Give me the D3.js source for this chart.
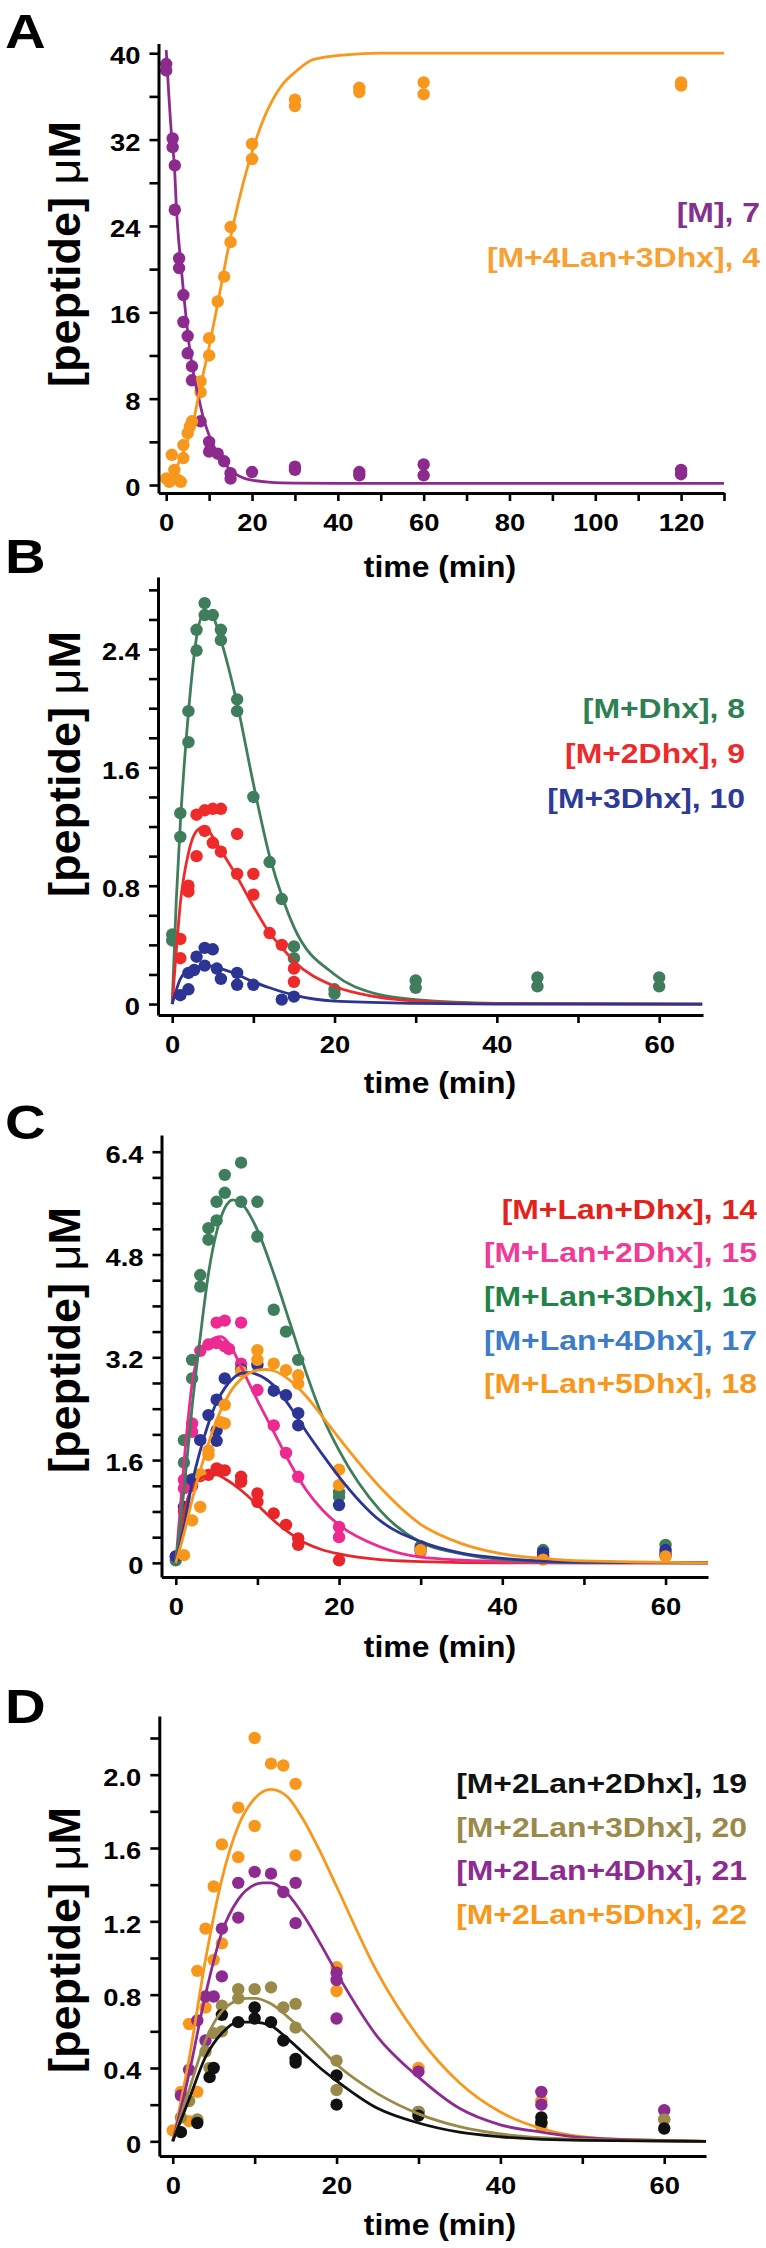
<!DOCTYPE html>
<html>
<head>
<meta charset="utf-8">
<script src="https://cdn.jsdelivr.net/npm/d3@7/dist/d3.min.js"></script>
<style>
  html, body { margin: 0; padding: 0; background: #fff; }
  svg { display: block; }
</style>
</head>
<body>
<svg id="chart" width="766" height="2248"></svg>
<script>
// ---------------- DATA ----------------
// Panel A
const aM_points = [[0,39.0],[0,38.4],[1.5,32.1],[1.5,31.3],[2,29.6],[2,25.5],[3,21.0],[3,20.1],[4,17.6],[4,15.1],[5,13.8],[5,12.2],[6,11.0],[6,9.7],[8,5.9],[10,4.0],[10,3.1],[12,2.9],[13.5,2.2],[15,1.1],[15,0.6],[20,1.2],[30,1.7],[30,1.4],[45,1.2],[45,0.9],[60,1.9],[60,0.9],[120,1.4],[120,1.0]];
const aM_fit = [[0,40.3],[1.3,32.1],[1.9,29.6],[2.4,25.5],[3.4,20.5],[4.1,17.6],[5.5,12.5],[6.8,9.4],[7.5,8.2],[8.6,6.3],[10.1,4.5],[12,2.9],[14.7,1.5],[18.4,0.6],[24.4,0.25],[30.5,0.18],[40,0.15],[130,0.15]];
const aP_points = [[0,0.6],[0.7,0.3],[1.3,2.8],[1.9,1.4],[2.6,0.5],[3.4,0.3],[4,2.5],[4,3.7],[5,4.8],[5.5,5.4],[6,5.9],[8,9.6],[8,8.6],[10,13.6],[10,12.0],[12,17.0],[13.5,19.3],[15,23.9],[15,22.5],[20,31.6],[20,30.2],[30,35.7],[30,35.1],[45,36.8],[45,36.4],[60,37.3],[60,36.2],[120,37.3],[120,37.0]];
const aP_fit = [[0,0],[2,1.3],[4.1,3.2],[6.4,6.0],[7.5,8.2],[10,12.8],[12,16.8],[14.7,22.4],[19.2,29.8],[22.9,34.1],[26.7,36.9],[30.5,38.4],[34.2,39.4],[41.7,39.85],[50,40],[130,40]];

// Panel B
const b8_points = [[4,2.71],[4,2.63],[5,2.63],[3,2.53],[6,2.53],[6,2.46],[3,2.39],[2,1.98],[2,1.77],[8,2.06],[8,1.98],[1,1.29],[1,1.13],[10,1.40],[12,0.96],[13.5,0.71],[0,0.47],[0,0.43],[15,0.39],[15,0.31],[20,0.10],[20,0.07],[30,0.16],[30,0.11],[45,0.18],[45,0.12],[60,0.18],[60,0.12]];
const b8_fit = [[0,0],[0.5,0.7],[1,1.22],[2,1.97],[3,2.48],[4,2.65],[5,2.62],[6,2.46],[8,2.03],[10,1.49],[12,1.0],[13.7,0.70],[15,0.52],[20,0.2],[25,0.07],[30,0.03],[40,0.005],[65.3,0]];
const b9_points = [[3,1.28],[4,1.31],[5,1.32],[6,1.32],[4,1.17],[5,1.09],[6,1.03],[3,1.0],[8,1.15],[2,0.80],[2,0.76],[8,0.88],[10,0.88],[10,0.74],[1,0.44],[1,0.31],[12,0.48],[13.5,0.40],[15,0.24],[15,0.15]];
const b9_fit = [[0,0],[0.5,0.36],[1,0.68],[2,1.02],[3,1.17],[4,1.2],[5,1.13],[6,1.04],[8,0.86],[10,0.66],[12,0.48],[13.7,0.37],[15,0.29],[20,0.12],[25,0.05],[30,0.02],[40,0.003],[65.3,0]];
const b10_points = [[4,0.38],[5,0.37],[3,0.32],[2,0.21],[2.7,0.23],[4,0.26],[5.5,0.24],[6,0.17],[8,0.21],[8,0.13],[10,0.13],[1,0.06],[2,0.10],[13.5,0.03],[15,0.05]];
const b10_fit = [[0,0],[1,0.17],[2,0.23],[3,0.25],[4,0.26],[5,0.255],[6,0.24],[8,0.2],[10,0.15],[12,0.11],[15,0.06],[20,0.02],[30,0.005],[40,0],[65.3,0]];

// Panel C
const c14_points = [[5,1.47],[5.5,1.44],[6,1.44],[4,1.37],[8,1.34],[8,1.26],[10,1.08],[10,0.95],[12,0.77],[13.5,0.59],[15,0.38],[15,0.28],[20,0.04],[3,1.35],[2,1.2],[1,0.8]];
const c14_fit = [[0,0],[1,0.77],[2,1.18],[3,1.31],[4,1.36],[5,1.37],[6,1.31],[8,1.13],[10,0.9],[12,0.66],[14,0.46],[16,0.30],[18,0.2],[20,0.14],[25,0.05],[30,0.02],[40,0],[65.2,0]];
const c15_points = [[5,3.74],[6,3.77],[8,3.74],[3,3.3],[4,3.4],[5,3.42],[6,3.37],[6.5,3.33],[8,3.1],[10,2.69],[12,2.14],[13.5,1.71],[15,1.34],[20,0.56],[20,0.40],[2,2.17],[2,2.04],[1,1.29],[1,1.16],[0,0.1],[30,0.18],[45,0.12],[60,0.15]];
const c15_fit = [[0,0],[1,1.55],[2,2.79],[3,3.31],[4,3.44],[5.5,3.52],[7,3.31],[8,3.05],[10,2.53],[12,2.04],[14,1.55],[16,1.13],[18,0.82],[20,0.59],[25,0.25],[30,0.09],[40,0.02],[50,0],[65.2,0]];
const c16_points = [[8,6.23],[6,6.04],[6,5.76],[5,5.62],[8,5.62],[10,5.62],[5,5.33],[4,5.21],[4,5.03],[10,5.08],[3,4.48],[3,4.30],[12,3.94],[13.5,3.60],[15,3.16],[2,3.16],[2,2.87],[1,1.91],[1,1.56],[0,0.04],[20,1.10],[20,1.03],[30,0.26],[45,0.2],[60,0.28]];
const c16_fit = [[0,0],[1,1.13],[2,2.43],[3,3.52],[4,4.5],[5,5.15],[6,5.52],[7,5.65],[8,5.6],[10,5.18],[12,4.5],[14,3.73],[16,2.95],[18,2.27],[20,1.75],[25,0.82],[30,0.32],[35,0.14],[40,0.05],[50,0.005],[65.2,0]];
const c17_points = [[8,3.01],[10,3.08],[6,2.87],[5,2.54],[4,2.30],[12,2.68],[13.5,2.61],[15,2.33],[15,2.14],[3,1.91],[5,2.06],[5,1.9],[2,1.30],[1,0.87],[20,0.90],[0,0.1],[30,0.22],[45,0.16],[45,0.1],[60,0.2],[60,0.12]];
const c17_fit = [[0,0],[1,0.56],[2,1.24],[3,1.75],[4,2.17],[5,2.5],[6,2.72],[7,2.87],[8,2.95],[9,2.96],[10,2.93],[12,2.76],[14,2.43],[16,2.04],[18,1.68],[20,1.34],[25,0.66],[30,0.33],[35,0.15],[40,0.07],[50,0.01],[65.2,0]];
const c18_points = [[10,3.31],[10,3.16],[12,3.10],[13.5,3.0],[15,2.92],[15,2.79],[8,2.98],[6,2.46],[5.5,2.19],[6,2.17],[4,1.75],[4,1.68],[3,1.38],[3,0.87],[2,0.66],[1,0.12],[20,1.45],[20,1.21],[30,0.2],[45,0.05],[60,0.1]];
const c18_fit = [[0,0],[1,0.45],[2,0.98],[3,1.44],[4,1.86],[5,2.22],[6,2.5],[7,2.72],[8,2.86],[10,3.0],[11,3.01],[12,2.99],[14,2.84],[16,2.59],[18,2.27],[20,1.94],[25,1.18],[30,0.6],[35,0.3],[40,0.14],[45,0.07],[50,0.03],[65.2,0]];

// Panel D
const d19_points = [[10,0.73],[10,0.67],[8,0.65],[12,0.65],[6,0.69],[13.5,0.55],[15,0.45],[15,0.43],[5,0.40],[4.5,0.35],[20,0.36],[20,0.20],[3,0.10],[1,0.05],[30,0.14],[45,0.13],[45,0.1],[60,0.07]];
const d19_fit = [[0,0],[2,0.23],[4,0.46],[6,0.59],[8,0.65],[10,0.65],[12,0.63],[14,0.56],[16,0.48],[18,0.40],[20,0.33],[25,0.18],[30,0.10],[35,0.05],[40,0.025],[50,0.005],[65.1,0]];
const d20_points = [[8,0.83],[10,0.83],[12,0.84],[8,0.78],[13.5,0.73],[15,0.75],[15,0.62],[6,0.74],[6,0.60],[5,0.59],[4,0.49],[4.5,0.40],[2,0.22],[1,0.13],[3,0.12],[20,0.44],[20,0.28],[30,0.16],[45,0.1],[60,0.12]];
const d20_fit = [[0,0],[2,0.28],[4,0.55],[6,0.71],[8,0.77],[9,0.78],[10,0.78],[12,0.75],[14,0.68],[16,0.60],[18,0.51],[20,0.42],[25,0.26],[30,0.15],[35,0.08],[40,0.04],[50,0.01],[65.1,0]];
const d21_points = [[10,1.47],[12,1.46],[8,1.41],[15,1.41],[13.5,1.36],[8,1.22],[15,1.19],[6,1.16],[6,0.90],[4,0.79],[5,0.79],[3,0.66],[4,0.55],[2,0.39],[1,0.25],[20,0.92],[20,0.88],[20,0.67],[30,0.38],[30,0.16],[45,0.27],[45,0.2],[60,0.17]];
const d21_fit = [[0,0],[2,0.37],[4,0.8],[6,1.14],[8,1.32],[10,1.40],[11,1.41],[12,1.41],[14,1.35],[16,1.23],[18,1.08],[20,0.92],[25,0.57],[30,0.35],[35,0.18],[40,0.09],[45,0.05],[50,0.02],[65.1,0]];
const d22_points = [[10,2.20],[12,2.06],[13.5,2.05],[15,1.95],[8,1.82],[10,1.72],[6,1.62],[8,1.55],[15,1.56],[5,1.39],[4,1.16],[6,1.08],[5,0.99],[3,0.93],[4,0.73],[2,0.64],[1,0.27],[3,0.27],[2,0.11],[0,0.06],[20,0.95],[20,0.82],[30,0.40],[30,0.15],[45,0.22],[45,0.08],[60,0.12]];
const d22_fit = [[0,0],[2,0.45],[4,0.99],[6,1.43],[8,1.72],[10,1.87],[12,1.92],[13,1.91],[14,1.88],[16,1.75],[18,1.58],[20,1.39],[25,0.92],[30,0.57],[35,0.32],[40,0.16],[45,0.07],[50,0.025],[55,0.01],[65.1,0]];

// Tick values and labels
const aYTicks = [0,4,8,12,16,20,24,28,32,36,40];
const aYLabels = [0,8,16,24,32,40];
const aXTicks = [0,10,20,30,40,50,60,70,80,90,100,110,120,130];
const aXLabels = [0,20,40,60,80,100,120];
const bYTicks = [0,0.2,0.4,0.6,0.8,1.0,1.2,1.4,1.6,1.8,2.0,2.2,2.4,2.6,2.8];
const bYLabels = [0,0.8,1.6,2.4];
const cYTicks = [0,0.4,0.8,1.2,1.6,2.0,2.4,2.8,3.2,3.6,4.0,4.4,4.8,5.2,5.6,6.0,6.4];
const cYLabels = [0,1.6,3.2,4.8,6.4];
const dYTicks = [0,0.2,0.4,0.6,0.8,1.0,1.2,1.4,1.6,1.8,2.0,2.2];
const dYLabels = [0,0.4,0.8,1.2,1.6,2.0];
const bcdXTicks = [0,10,20,30,40,50,60];
const bcdXLabels = [0,20,40,60];

const aLegend = ["[M], 7", "[M+4Lan+3Dhx], 4"];
const bLegend = ["[M+Dhx], 8", "[M+2Dhx], 9", "[M+3Dhx], 10"];
const cLegend = ["[M+Lan+Dhx], 14", "[M+Lan+2Dhx], 15", "[M+Lan+3Dhx], 16", "[M+Lan+4Dhx], 17", "[M+Lan+5Dhx], 18"];
const dLegend = ["[M+2Lan+2Dhx], 19", "[M+2Lan+3Dhx], 20", "[M+2Lan+4Dhx], 21", "[M+2Lan+5Dhx], 22"];

// ---------------- STYLE / LAYOUT ----------------
const FONT = "'Liberation Sans', Arial, Helvetica, sans-serif";
const SX = 1.14;   // horizontal stretch of the figure's lettering

const panels = [
  { letter: "A", letterY: 48,
    x: d3.scaleLinear().domain([-1.8, 130]).range([158.5, 724]),
    y: d3.scaleLinear().domain([-0.74, 40.9]).range([493, 43.5]),
    yTicks: aYTicks, yLabels: aYLabels, xTicks: aXTicks, xLabels: aXLabels,
    fmt: d => String(d), titleY: 577, yTitleC: 254,
    legendRight: 760, legendY: [222, 267],
    series: [
      { pts: aM_points, fit: aM_fit, color: "#8C2A8E", lcolor: "#83308F", name: aLegend[0] },
      { pts: aP_points, fit: aP_fit, color: "#F7981D", lcolor: "#F7A033", name: aLegend[1] }
    ] },
  { letter: "B", letterY: 573,
    x: d3.scaleLinear().domain([-1.75, 65.4]).range([158, 703]),
    y: d3.scaleLinear().domain([-0.074, 2.887]).range([1015, 577]),
    yTicks: bYTicks, yLabels: bYLabels, xTicks: bcdXTicks, xLabels: bcdXLabels,
    fmt: d => d === 0 ? "0" : d.toFixed(1), titleY: 1093, yTitleC: 764,
    legendRight: 745, legendY: [718, 763, 808],
    series: [
      { pts: b8_points, fit: b8_fit, color: "#3F7D5C", lcolor: "#2E7F51", name: bLegend[0] },
      { pts: b9_points, fit: b9_fit, color: "#EE2A2A", lcolor: "#EE2A2A", name: bLegend[1] },
      { pts: b10_points, fit: b10_fit, color: "#2D3594", lcolor: "#2D3A9A", name: bLegend[2] }
    ] },
  { letter: "C", letterY: 1139,
    x: d3.scaleLinear().domain([-1.75, 65.2]).range([161.5, 708]),
    y: d3.scaleLinear().domain([-0.22, 6.66]).range([1577, 1135]),
    yTicks: cYTicks, yLabels: cYLabels, xTicks: bcdXTicks, xLabels: bcdXLabels,
    fmt: d => d === 0 ? "0" : d.toFixed(1), titleY: 1657, yTitleC: 1340,
    legendRight: 757, legendY: [1219, 1262, 1306, 1350, 1393],
    series: [
      { pts: c14_points, fit: c14_fit, color: "#E8262A", lcolor: "#E2231A", name: cLegend[0] },
      { pts: c15_points, fit: c15_fit, color: "#EC2A90", lcolor: "#F03C97", name: cLegend[1] },
      { pts: c16_points, fit: c16_fit, color: "#3E7E5C", lcolor: "#1F8447", name: cLegend[2] },
      { pts: c17_points, fit: c17_fit, color: "#2D3594", lcolor: "#3D7CC9", name: cLegend[3] },
      { pts: c18_points, fit: c18_fit, color: "#F7981D", lcolor: "#F7981D", name: cLegend[4] }
    ] },
  { letter: "D", letterY: 1723,
    x: d3.scaleLinear().domain([-1.64, 65.1]).range([159.3, 706]),
    y: d3.scaleLinear().domain([-0.08, 2.32]).range([2156, 1716]),
    yTicks: dYTicks, yLabels: dYLabels, xTicks: bcdXTicks, xLabels: bcdXLabels,
    fmt: d => d === 0 ? "0" : d.toFixed(1), titleY: 2235, yTitleC: 1940,
    legendRight: 747, legendY: [1793, 1837, 1880, 1924],
    series: [
      { pts: d22_points, fit: d22_fit, color: "#F7981D", lcolor: "#F7981D", name: dLegend[3], li: 3 },
      { pts: d21_points, fit: d21_fit, color: "#8E2B91", lcolor: "#8E2B91", name: dLegend[2], li: 2 },
      { pts: d20_points, fit: d20_fit, color: "#9A8A4A", lcolor: "#9A8A4A", name: dLegend[1], li: 1 },
      { pts: d19_points, fit: d19_fit, color: "#111111", lcolor: "#111111", name: dLegend[0], li: 0 }
    ] }
];

const svg = d3.select("#chart");

panels.forEach(p => {
  const g = svg.append("g");
  const x = p.x, y = p.y;

  // panel letter
  g.append("text")
    .attr("transform", `translate(5,${p.letterY}) scale(1.15,1)`)
    .attr("font-family", FONT).attr("font-weight", "bold").attr("font-size", 49)
    .attr("fill", "#000").text(p.letter);

  // data points
  p.series.forEach(s => {
    g.append("g").selectAll("circle").data(s.pts).join("circle")
      .attr("cx", d => x(d[0])).attr("cy", d => y(d[1])).attr("r", 6.2)
      .attr("fill", s.color);
  });
  // fitted curves
  const line = d3.line().x(d => x(d[0])).y(d => y(d[1])).curve(d3.curveMonotoneX);
  p.series.forEach(s => {
    g.append("path").datum(s.fit).attr("d", line)
      .attr("fill", "none").attr("stroke", s.color).attr("stroke-width", 2.8);
  });

  // y axis
  const ya = g.append("g").attr("transform", `translate(${x.range()[0]},0)`)
    .call(d3.axisLeft(y).tickValues(p.yTicks).tickSize(9).tickSizeOuter(0).tickPadding(9)
      .tickFormat(d => p.yLabels.some(v => Math.abs(v - d) < 1e-9) ? p.fmt(d) : ""));
  // x axis
  const xa = g.append("g").attr("transform", `translate(0,${y.range()[0]})`)
    .call(d3.axisBottom(x).tickValues(p.xTicks).tickSize(8).tickSizeOuter(0).tickPadding(13)
      .tickFormat(d => p.xLabels.includes(d) ? String(d) : ""));
  [ya, xa].forEach(a => {
    a.select(".domain").attr("stroke-width", 3).attr("stroke", "#000");
    a.selectAll(".tick line").attr("stroke-width", 2.6).attr("stroke", "#000");
    a.selectAll(".tick text").attr("font-family", FONT).attr("font-weight", "bold")
      .attr("font-size", 24).attr("fill", "#000");
  });
  ya.selectAll(".tick text").each(function() {
    const t = d3.select(this); const tx = +t.attr("x");
    t.attr("x", 0).attr("transform", `translate(${tx},3) scale(${SX},1)`);
  });
  xa.selectAll(".tick text").attr("transform", `scale(${SX},1)`);

  // axis titles
  g.append("text")
    .attr("transform", `translate(440,${p.titleY}) scale(1.1,1)`)
    .attr("text-anchor", "middle")
    .attr("font-family", FONT).attr("font-weight", "bold").attr("font-size", 29)
    .attr("fill", "#000").text("time (min)");
  const yt = g.append("text")
    .attr("transform", `translate(80,${p.yTitleC}) rotate(-90)`)
    .attr("text-anchor", "middle")
    .attr("font-family", FONT).attr("font-weight", "bold").attr("font-size", 45)
    .attr("fill", "#000");
  yt.append("tspan").text("[peptide] ");
  yt.append("tspan").attr("font-weight", "normal").text("\u03bc");
  yt.append("tspan").text("M");

  // legend labels
  p.series.forEach((s, i) => {
    const li = s.li !== undefined ? s.li : i;
    g.append("text")
      .attr("transform", `translate(${p.legendRight},${p.legendY[li]}) scale(${SX},1)`)
      .attr("text-anchor", "end")
      .attr("font-family", FONT).attr("font-weight", "bold").attr("font-size", 28)
      .attr("fill", s.lcolor).text(s.name);
  });
});
</script>
</body>
</html>
